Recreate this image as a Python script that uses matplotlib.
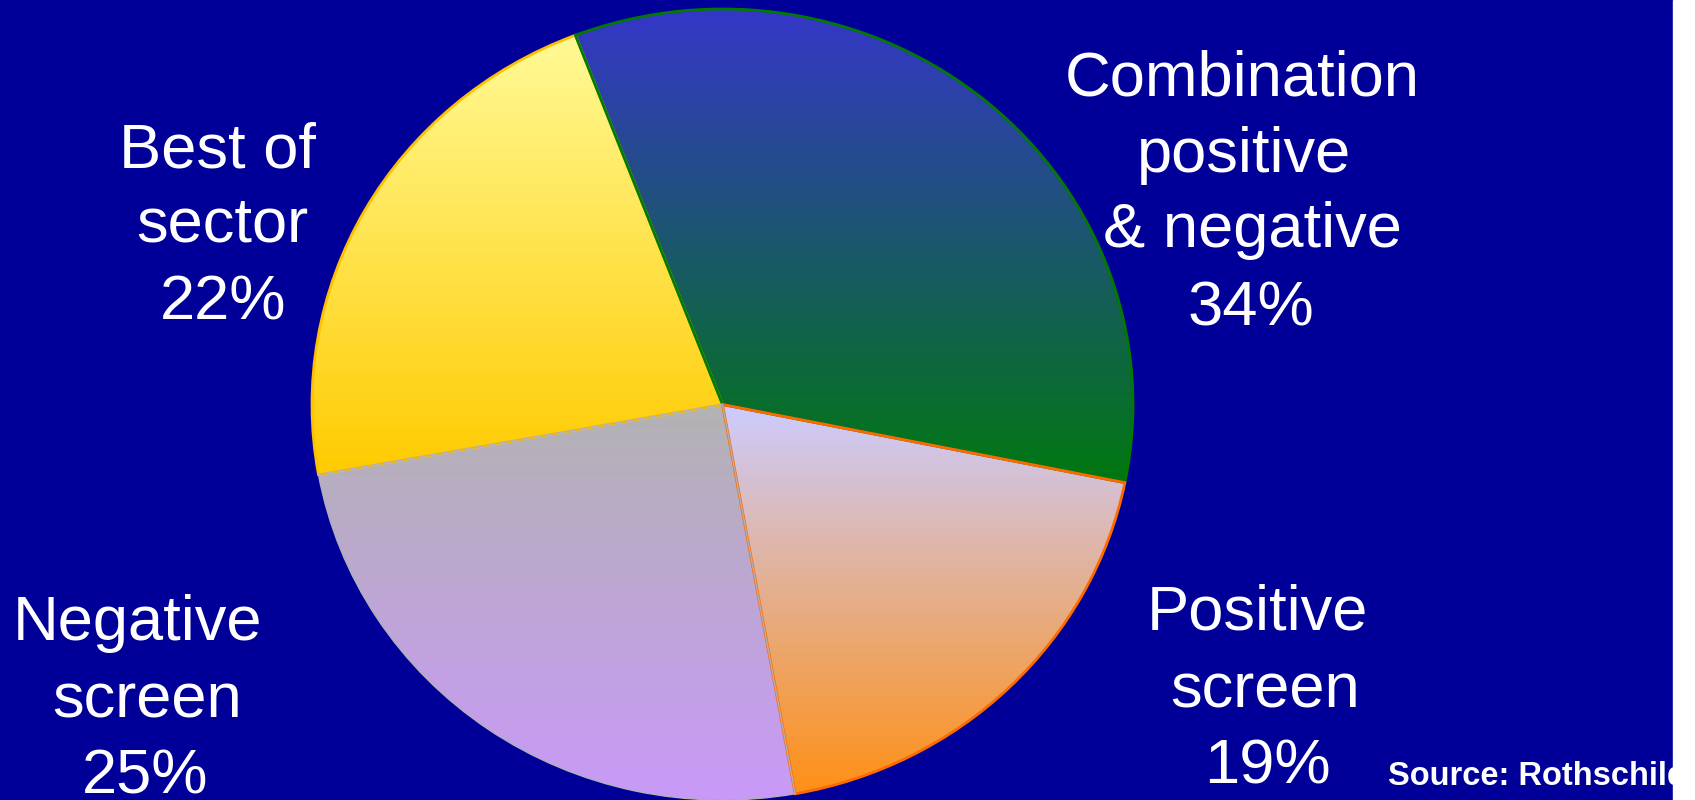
import numpy as np
import matplotlib
matplotlib.use("Agg")
import matplotlib.pyplot as plt
from matplotlib.colors import LinearSegmentedColormap
from matplotlib.patches import Rectangle

# ---- data ----
categories = ["Combination positive & negative", "Positive screen",
              "Negative screen", "Best of sector"]
values = [34, 19, 25, 22]
label_lines = [["Combination", "positive", "& negative", "34%"],
               ["Positive", "screen", "19%"],
               ["Negative", "screen", "25%"],
               ["Best of", "sector", "22%"]]
source_text = "Source: Rothschild"

# ---- style ----
top_colors = ["#3536C8", "#CCCCFF", "#B3B3B3", "#FFFA96"]
bottom_colors = ["#007810", "#FF9015", "#C999F8", "#FFCB00"]
edge_colors = ["#007A00", "#FF6A00", "#B0B0B8", "#FFC000"]
edge_widths = [2.0, 2.0, 1.0, 2.0]
edge_z = [3, 4, 5, 2]

# label layout: per line (x centre, baseline) in pixels from top-left
label_pos = [[(1242, 95), (1244, 172), (1252, 247), (1251, 325)],
             [(1257, 630), (1265, 707), (1267, 783)],
             [(138, 640), (147, 717), (145, 793)],
             [(217, 167), (222, 242), (223, 320)]]

W, H = 1695, 800
BG = "#000099"
fig = plt.figure(figsize=(W / 100, H / 100), dpi=100)
fig.patch.set_facecolor(BG)
fig.patches.append(Rectangle((1673 / W, 0), (W - 1673) / W, 1,
                             transform=fig.transFigure, color="white",
                             zorder=10))

ax = fig.add_axes([312 / W, 0, 821 / W, 791 / H])
ax.set_axis_off()

wedges, _ = ax.pie(values, startangle=111, counterclock=False, radius=1)
for i, w in enumerate(wedges):
    w.set_facecolor("none")
    w.set_edgecolor(edge_colors[i])
    w.set_linewidth(edge_widths[i])
    w.set_zorder(edge_z[i])
    ext = w.get_path().get_extents()
    cmap = LinearSegmentedColormap.from_list("g%d" % i,
                                             [top_colors[i], bottom_colors[i]])
    grad = np.linspace(0, 1, 256).reshape(-1, 1)
    img = ax.imshow(grad, extent=(ext.x0, ext.x1, ext.y0, ext.y1),
                    origin="upper", aspect="auto", cmap=cmap, zorder=1,
                    interpolation="bilinear")
    img.set_clip_path(w)

ax.set_aspect("auto")
ax.set_xlim(-1, 1)
ax.set_ylim(-1, 1)

for lines, poss in zip(label_lines, label_pos):
    for s, (x, y) in zip(lines, poss):
        fig.text(x / W, 1 - y / H, s, ha="center", va="baseline",
                 fontsize=45.5, color="white", family="Liberation Sans")

fig.text(1388 / W, 1 - 785 / H, source_text, ha="left", va="baseline",
         fontsize=23.5, color="white", family="Liberation Sans",
         fontweight="bold", zorder=5)

fig.savefig("out.png", dpi=100, facecolor=BG)
